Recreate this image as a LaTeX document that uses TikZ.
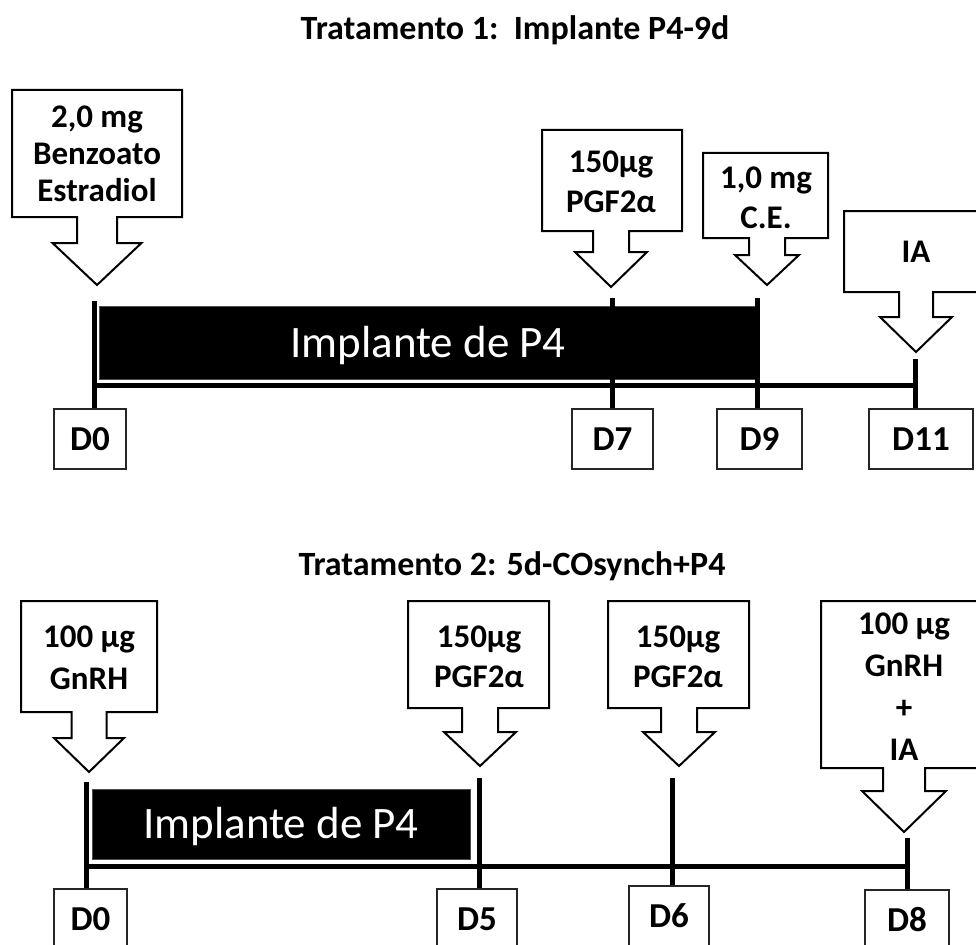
\documentclass[tikz,border=0pt]{standalone}
\usepackage{fontspec}
\setmainfont{Carlito}
% #1 arrow x, #2 left, #3 right, #4 top, #5 bottom, #6 stem half width, #7 stem bottom, #8 head half width, #9 tip y
\newcommand\callarrow[9]{%
  \draw[callout] (#2,#4) -- (#3,#4) -- (#3,#5) -- ({#1+#6},#5) -- ({#1+#6},#7) -- ({#1+#8},#7)
    -- (#1,#9) -- ({#1-#8},#7) -- ({#1-#6},#7) -- ({#1-#6},#5) -- (#2,#5) -- cycle;}
\begin{document}
\begin{tikzpicture}[x=1pt,y=-1pt,
  callout/.style={draw=black, line width=2pt, fill=white, line join=miter},
  ctext/.style={font=\bfseries\fontsize{33}{40}\selectfont, align=center, inner sep=0pt},
  dbox/.style={draw=black!85, line width=1.4pt, fill=white, minimum width=#1,
               minimum height=60pt, inner sep=0pt, font=\bfseries\fontsize{35}{40}\selectfont},
  titletext/.style={font=\bfseries\fontsize{34}{38}\selectfont, anchor=base, inner sep=0pt},
  barbox/.style={fill=black, draw=black!70, line width=1pt, inner sep=0pt},
  bartext/.style={text=white, font=\fontsize{45}{48}\selectfont, anchor=base, inner sep=0pt},
  tickline/.style={line width=5pt}
]
\useasboundingbox (0,0) rectangle (976,944);
\clip (0,0) rectangle (976,944);

% ---------- Tratamento 1 ----------
\node[titletext] (title1) at (515,40) {Tratamento 1:~\ Implante P4-9d};

\callarrow{97}{12}{182}{90}{217}{20}{243}{44.5}{285}
\node[ctext, font=\bfseries\fontsize{33}{37}\selectfont] (c1) at (97,154) {2,0 mg\\Benzoato\\Estradiol};
\callarrow{611}{542}{682}{130}{231}{18}{252}{36}{287}
\node[ctext] (c2) at (611,182) {150µg\\PGF2α};
\callarrow{767}{703}{828}{153}{238}{18}{255}{32}{285}
\node[ctext] (c3) at (766,198) {1,0 mg\\C.E.};
\callarrow{916}{844}{988}{211}{292}{17}{317}{36}{352}
\node[ctext] (c4) at (916,252) {IA};

\node[barbox, minimum width=658pt, minimum height=73pt] (bar1) at (428,342.5) {};
\node[bartext] (bar1t) at (428,357) {Implante de P4};

\node[dbox=72pt] (r1d0) at (90,439) {D0};
\node[dbox=81pt] (r1d7) at (612.5,439) {D7};
\node[dbox=85pt] (r1d9) at (759.5,439) {D9};
\node[dbox=104pt] (r1d11) at (921,439) {D11};

\coordinate (r1t0) at (94,301);
\coordinate (r1t7) at (612,298);
\coordinate (r1t9) at (757,298);
\coordinate (r1t11) at (915,359);
\coordinate (r1a) at (94,385);
\coordinate (r1b) at (915,385);
\draw[tickline] (r1a) -- (r1b);
\draw[tickline] (r1t0) -- (r1t0 |- r1d0.north);
\draw[tickline] (r1t7) -- (r1t7 |- r1d7.north);
\draw[tickline] (r1t9) -- (r1t9 |- r1d9.north);
\draw[tickline] (r1t11) -- (r1t11 |- r1d11.north);

% ---------- Tratamento 2 ----------
\node[titletext] (title2) at (512,575) {Tratamento 2: 5d-COsynch+P4};

\callarrow{89}{21}{157}{601}{712}{17.5}{738}{35}{772}
\node[ctext, font=\bfseries\fontsize{33}{42}\selectfont] (c5) at (89,658) {100 µg\\GnRH};
\callarrow{480}{408}{549}{601}{708}{18}{732}{36}{766}
\node[ctext] (c6) at (479,657) {150µg\\PGF2α};
\callarrow{679}{608}{749}{601}{708}{18}{732}{36}{766}
\node[ctext] (c7) at (678,657) {150µg\\PGF2α};
\callarrow{904}{821}{987}{601}{768}{21}{791}{42}{832}
\node[ctext, font=\bfseries\fontsize{33}{42}\selectfont] (c8) at (904,687) {100 µg\\GnRH\\+\\IA};

\node[barbox, minimum width=378pt, minimum height=70pt] (bar2) at (281,824) {};
\node[bartext] (bar2t) at (281,838.5) {Implante de P4};

\node[dbox=73pt] (r2d0) at (90.5,919) {D0};
\node[dbox=80pt] (r2d5) at (477,919) {D5};
\node[dbox=80pt] (r2d6) at (669,916) {D6};
\node[dbox=84pt] (r2d8) at (907,920) {D8};

\coordinate (r2t0) at (86,782);
\coordinate (r2t5) at (479,778);
\coordinate (r2t6) at (672,778);
\coordinate (r2t8) at (907,838);
\coordinate (r2a) at (86,866);
\coordinate (r2b) at (907,866);
\draw[tickline] (r2a) -- (r2b);
\draw[tickline] (r2t0) -- (r2t0 |- r2d0.north);
\draw[tickline] (r2t5) -- (r2t5 |- r2d5.north);
\draw[tickline] (r2t6) -- (r2t6 |- r2d6.north);
\draw[tickline] (r2t8) -- (r2t8 |- r2d8.north);
\end{tikzpicture}
\end{document}
